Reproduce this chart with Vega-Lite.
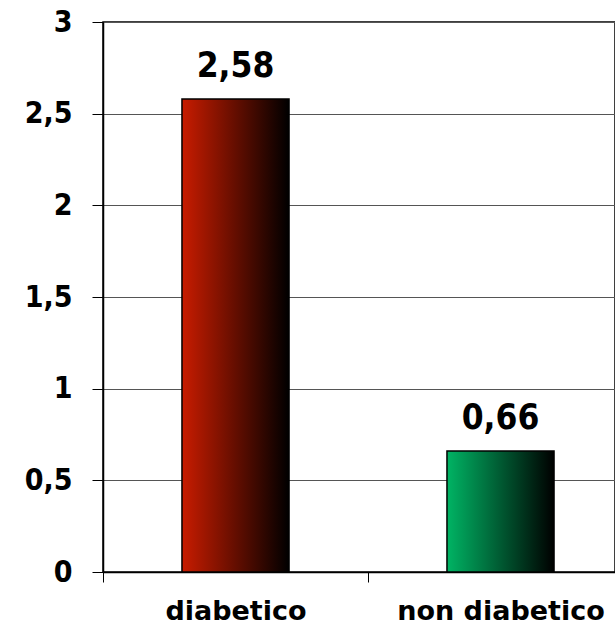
{
  "$schema": "https://vega.github.io/schema/vega-lite/v6.json",
  "width": 512,
  "height": 550,
  "autosize": {"type": "none"},
  "padding": {"left": 103, "top": 22, "right": 0, "bottom": 55},
  "background": "white",
  "config": {
    "locale": {"number": {"decimal": ",", "thousands": ".", "grouping": [3], "currency": ["", " €"]}},
    "view": {"stroke": "#000", "strokeWidth": 1.5},
    "font": "DejaVu Sans Condensed"
  },
  "data": {
    "values": [
      {"gruppo": "diabetico", "valore": 2.58},
      {"gruppo": "non diabetico", "valore": 0.66}
    ]
  },
  "encoding": {
    "x": {
      "field": "gruppo",
      "type": "nominal",
      "sort": null,
      "scale": {"range": [0, 530], "paddingInner": 0, "paddingOuter": 0},
      "axis": {
        "title": null,
        "labelAngle": 0,
        "labelLimit": 400,
        "labelFont": "DejaVu Sans",
        "labelFontSize": 27,
        "labelFontWeight": "bold",
        "labelColor": "#000",
        "labelPadding": 16,
        "tickBand": "extent",
        "tickSize": 10,
        "tickColor": "#000",
        "tickWidth": 1,
        "domainColor": "#000",
        "domainWidth": 1.5,
        "grid": false
      }
    },
    "y": {
      "field": "valore",
      "type": "quantitative",
      "scale": {"domain": [0, 3], "nice": false},
      "axis": {
        "title": null,
        "values": [0, 0.5, 1, 1.5, 2, 2.5, 3],
        "format": "~g",
        "labelFont": "DejaVu Sans Condensed",
        "labelFontSize": 30,
        "labelFontWeight": "bold",
        "labelColor": "#000",
        "labelPadding": 20,
        "tickSize": 11,
        "tickColor": "#000",
        "tickWidth": 1,
        "domainColor": "#000",
        "domainWidth": 1.5,
        "grid": true,
        "gridColor": "#555",
        "gridWidth": 1
      }
    }
  },
  "layer": [
    {
      "transform": [{"filter": "datum.gruppo === 'diabetico'"}],
      "mark": {
        "type": "bar",
        "width": {"band": 0.404},
        "color": {
          "gradient": "linear", "x1": 0, "x2": 1, "y1": 0, "y2": 0,
          "stops": [{"offset": 0, "color": "#c81c00"}, {"offset": 1, "color": "#000000"}]
        },
        "stroke": "#000",
        "strokeWidth": 1.5
      }
    },
    {
      "transform": [{"filter": "datum.gruppo === 'non diabetico'"}],
      "mark": {
        "type": "bar",
        "width": {"band": 0.404},
        "color": {
          "gradient": "linear", "x1": 0, "x2": 1, "y1": 0, "y2": 0,
          "stops": [{"offset": 0, "color": "#00b464"}, {"offset": 1, "color": "#000000"}]
        },
        "stroke": "#000",
        "strokeWidth": 1.5
      }
    },
    {
      "mark": {
        "type": "text",
        "dy": -22,
        "baseline": "alphabetic",
        "font": "DejaVu Sans Condensed",
        "fontSize": 35,
        "fontWeight": "bold",
        "color": "#000"
      },
      "encoding": {
        "text": {"field": "valore", "type": "quantitative", "format": ".2f"}
      }
    }
  ]
}
